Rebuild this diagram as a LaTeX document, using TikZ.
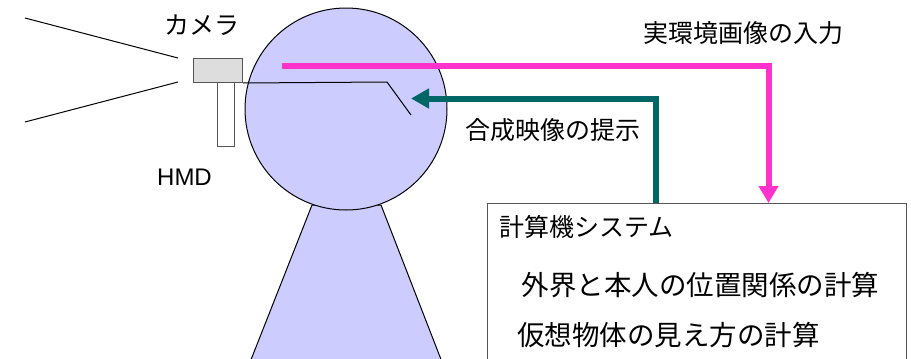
\documentclass[tikz,border=0pt]{standalone}
\usepackage{fontspec}
\setmainfont{Liberation Sans}
\newfontfamily\jafont{Noto Sans CJK JP}
\usetikzlibrary{arrows.meta}
\definecolor{headfill}{HTML}{CCCCFF}
\definecolor{campink}{HTML}{FF33CC}
\definecolor{dispteal}{HTML}{006666}
\definecolor{camgray}{HTML}{DDDDDD}
\definecolor{edgegray}{HTML}{555555}
\tikzset{
  body/.style={draw=black, line width=1pt, fill=headfill},
  device/.style={draw=edgegray, line width=1pt, rectangle, inner sep=0pt, anchor=north west},
  thin/.style={draw=black, line width=1pt},
  flowin/.style={draw=campink, line width=6pt, -{Triangle[length=17pt,width=19pt]}},
  flowout/.style={draw=dispteal, line width=6pt, -{Triangle[length=18pt,width=19pt]}},
  label/.style={inner sep=0pt, font=\jafont\fontsize{25}{25}\selectfont},
  boxline/.style={inner sep=0pt, anchor=west, font=\jafont\fontsize{27.5}{28}\selectfont},
}
\begin{document}
\begin{tikzpicture}[x=1pt, y=-1pt]
\useasboundingbox (0,0) rectangle (911,359);
\clip (0,0) rectangle (911,359);

% body and head
\draw[body] (312,205) -- (243,380) -- (449,380) -- (381,205) -- cycle;
\node[body, circle, minimum size=202pt, inner sep=0pt] (head) at (346,109) {};

% camera and display
\node[device, fill=camgray, minimum width=49pt, minimum height=24pt] (cam) at (193,58) {};
\node[device, fill=white, minimum width=17pt, minimum height=64pt] (hmd) at (217,82) {};

% field of view of the camera
\coordinate (fovtop) at (25,18);
\coordinate (fovbot) at (25,122);
\coordinate (lensA) at (178,58);
\coordinate (lensB) at (178,82);
\draw[thin] (fovtop) -- (lensA);
\draw[thin] (lensB) -- (fovbot);

% line of sight to the display
\coordinate (bend) at (387,82);
\coordinate (eye) at (411,115);
\draw[thin] (cam.south east) -- (bend) -- (eye);

% computer system box
\node[draw=edgegray, line width=1.3pt, rectangle, anchor=north west, minimum width=419pt, minimum height=200pt, inner sep=0pt] (sys) at (487,203) {};
\node[label, anchor=west] (systitle) at (499,227) {計算機システム};
\node[boxline] (calc1) at (521.5,285) {外界と本人の位置関係の計算};
\node[boxline] (calc2) at (517,335.5) {仮想物体の見え方の計算};

% image input and composite output
\coordinate (camout) at (282,66);
\coordinate (sysin) at (768.5,203);
\draw[flowin] (camout) -| (sysin);
\coordinate (sysout) at (656,203);
\coordinate (eyein) at (411,98.5);
\draw[flowout] (sysout) |- (eyein);

% labels
\node[label] (camlabel) at (201.5,25) {カメラ};
\node[inner sep=0pt, font=\fontsize{24}{24}\selectfont] (hmdlabel) at (184.5,177) {HMD};
\node[label] (inlabel) at (743.5,33) {実環境画像の入力};
\node[label] (outlabel) at (553,130) {合成映像の提示};
\end{tikzpicture}
\end{document}
